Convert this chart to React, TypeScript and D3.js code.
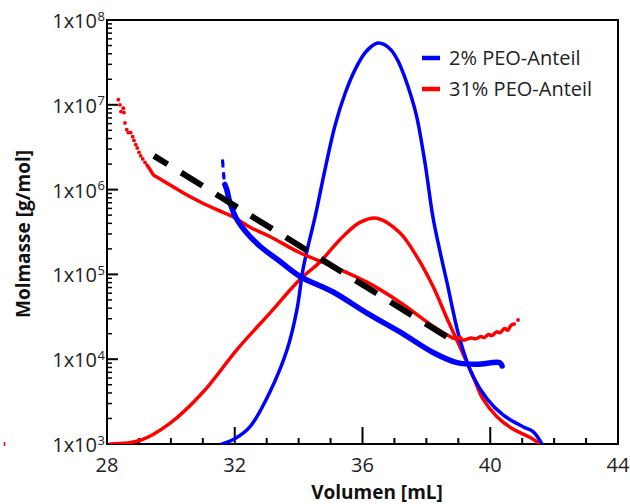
import React from "react";
import * as d3 from "d3";

// ---- data ----
const xTicks = [28, 32, 36, 40, 44];
const yExponents = [3, 4, 5, 6, 7, 8];
const legendLabels = ["2% PEO-Anteil", "31% PEO-Anteil"];
const axisTitleX = "Volumen [mL]";
const axisTitleY = "Molmasse [g/mol]";

// distribution curves (2% = blue, 31% = red)
const blueDistX = [31.6, 32.0, 32.48, 33.1, 33.64, 33.95, 34.137, 34.324, 34.512, 34.825, 35.138, 35.451, 35.764, 36.077, 36.296, 36.475, 36.672, 36.891, 37.111, 37.33, 37.518, 37.706, 37.956, 38.207, 38.426, 38.645, 39.05, 39.46, 39.9, 40.4, 41.02, 41.34, 41.62];
const blueDistY = [1.0e3, 1.15e3, 1.6e3, 4.1e3, 1.3e4, 3.9e4, 1.15e5, 2.38e5, 4.69e5, 1.72e6, 5.66e6, 1.35e7, 2.58e7, 4.09e7, 4.94e7, 5.36e7, 5.15e7, 4.44e7, 3.3e7, 2.08e7, 1.28e7, 7.03e6, 2.08e6, 4.69e5, 1.87e5, 8.05e4, 1.7e4, 6.3e3, 3.4e3, 2.2e3, 1.6e3, 1.4e3, 1.0e3];

const redDistX = [28.1, 29.03, 29.97, 31.01, 32.07, 33.1, 34.04, 34.67, 35.08, 35.39, 35.92, 36.45, 37.17, 37.71, 38.21, 38.65, 39.05, 39.46, 39.77, 40.21, 40.71, 41.24, 41.56];
const redDistY = [1.0e3, 1.1e3, 1.75e3, 4.1e3, 1.3e4, 3.5e4, 8.7e4, 1.4e5, 2.1e5, 2.8e5, 4.1e5, 4.6e5, 3.1e5, 1.6e5, 7.2e4, 3.0e4, 1.4e4, 6.3e3, 3.4e3, 2.1e3, 1.5e3, 1.2e3, 1.0e3];

// molar mass curves
const redMolDotsX = [28.354, 28.407, 28.438, 28.51, 28.532, 28.563, 28.617, 28.667, 28.742, 28.805, 28.845, 28.899, 28.949, 29.002, 29.055, 29.118, 29.19];
const redMolDotsY = [1.15e7, 1.0e7, 8.3e6, 9.1e6, 8.1e6, 6.1e6, 5.1e6, 4.7e6, 4.7e6, 4.2e6, 3.8e6, 3.4e6, 3.1e6, 2.75e6, 2.5e6, 2.3e6, 2.1e6];
const redMolX = [29.25, 29.35, 29.45, 29.61, 29.87, 30.38, 30.91, 31.44, 31.94, 32.48, 33.1, 34.04, 35.08, 36.14, 37.17, 38.21, 38.74, 38.9, 39.05, 39.15, 39.27, 39.4, 39.55, 39.7, 39.8, 39.95, 40.05, 40.2, 40.3, 40.45, 40.55, 40.65, 40.75];
const redMolY = [1.95e6, 1.72e6, 1.5e6, 1.37e6, 1.2e6, 9.2e5, 7.2e5, 5.8e5, 4.8e5, 3.6e5, 2.8e5, 1.8e5, 1.24e5, 8.1e4, 4.7e4, 2.45e4, 1.85e4, 1.75e4, 1.8e4, 1.68e4, 1.72e4, 1.78e4, 1.74e4, 1.85e4, 1.8e4, 1.95e4, 1.9e4, 2.1e4, 2.05e4, 2.3e4, 2.2e4, 2.5e4, 2.6e4];
const redMolEndX = [40.87];
const redMolEndY = [2.9e4];

const blueMolDotsX = [31.62, 31.63, 31.65, 31.66];
const blueMolDotsY = [2.12e6, 1.95e6, 1.5e6, 1.41e6];
const blueMolX = [31.69, 31.75, 31.85, 32.06, 32.37, 32.79, 33.42, 34.04, 35.08, 36.14, 37.17, 38.21, 38.96, 39.58, 40.3, 40.37];
const blueMolY = [1.15e6, 1.0e6, 7.0e5, 4.5e5, 3.1e5, 2.15e5, 1.42e5, 9.5e4, 6.2e4, 3.5e4, 2.1e4, 1.2e4, 9.1e3, 8.7e3, 9.1e3, 8.3e3];

// dashed reference line
const dashX = [29.47, 38.68];
const dashY = [2.5e6, 1.8e4];

const BLUE = "#0000ff";
const RED = "#ff0000";
const TEXT = "#222222";
const FONT = "'Open Sans', 'DejaVu Sans', sans-serif";

export default function App() {
  const W = 630, H = 504;
  const left = 107, right = 618, top = 20, bottom = 444;
  const x = d3.scaleLinear().domain([28, 44]).range([left, right]);
  const y = d3.scaleLog().domain([1e3, 1e8]).range([bottom, top]);

  const zip = (xs: number[], ys: number[]) => xs.map((v, i) => [v, ys[i]] as [number, number]);
  const line = d3
    .line<[number, number]>()
    .x((d) => x(d[0]))
    .y((d) => y(d[1]))
    .curve(d3.curveCatmullRom.alpha(0.5));
  const straight = d3
    .line<[number, number]>()
    .x((d) => x(d[0]))
    .y((d) => y(d[1]));

  const minorX = d3.range(29, 44).filter((v) => v % 4 !== 0);
  const minorY: number[] = [];
  for (let e = 3; e < 8; e++) for (let m = 2; m <= 9; m++) minorY.push(m * Math.pow(10, e));

  return (
    <svg width={W} height={H} style={{ position: "absolute", left: 0, top: 0, background: "#fff" }} fontFamily={FONT}>
      <defs>
        <clipPath id="plot">
          <rect x={left} y={top} width={right - left} height={bottom - top} />
        </clipPath>
      </defs>

      {/* frame */}
      <rect x={left} y={top} width={right - left} height={bottom - top} fill="none" stroke="#000" strokeWidth={2} />

      {/* x ticks */}
      {xTicks.map((t) => (
        <g key={"xt" + t}>
          <line x1={x(t)} x2={x(t)} y1={bottom} y2={bottom - 17} stroke="#000" strokeWidth={2} />
          <text x={x(t)} y={472} textAnchor="middle" fontSize={20} fill={TEXT}>{t}</text>
        </g>
      ))}
      {minorX.map((t) => (
        <line key={"xm" + t} x1={x(t)} x2={x(t)} y1={bottom} y2={bottom - 6} stroke="#000" strokeWidth={2} />
      ))}

      {/* y ticks */}
      {yExponents.map((e) => {
        const yy = y(Math.pow(10, e));
        return (
          <g key={"yt" + e}>
            <line x1={left} x2={left + 11} y1={yy} y2={yy} stroke="#000" strokeWidth={2} />
            <text x={97} y={yy + 8} textAnchor="end" fontSize={20} fill={TEXT}>1x10</text>
            <text x={97.5} y={yy + 0.5} textAnchor="start" fontSize={13} fill={TEXT}>{e}</text>
          </g>
        );
      })}
      {minorY.map((v) => (
        <line key={"ym" + v} x1={left} x2={left + 5} y1={y(v)} y2={y(v)} stroke="#000" strokeWidth={1.5} />
      ))}

      {/* curves */}
      <g clipPath="url(#plot)" fill="none" strokeLinejoin="round" strokeLinecap="round">
        <path d={line(zip(redDistX, redDistY)) || ""} stroke={RED} strokeWidth={3.5} />
        <path d={line(zip(blueDistX, blueDistY)) || ""} stroke={BLUE} strokeWidth={3.5} />
        <path d={line(zip(redMolX, redMolY)) || ""} stroke={RED} strokeWidth={3.5} />
        <path d={line(zip(blueMolX, blueMolY)) || ""} stroke={BLUE} strokeWidth={5.5} />
        <path d={straight(zip(dashX, dashY)) || ""} stroke="#000" strokeWidth={6} strokeDasharray="25 16" strokeDashoffset={9} strokeLinecap="butt" />
      </g>
      {zip(redMolDotsX, redMolDotsY).concat(zip(redMolEndX, redMolEndY)).map((d, i) => (
        <circle key={"rd" + i} cx={x(d[0])} cy={y(d[1])} r={1.9} fill={RED} />
      ))}
      {zip(blueMolDotsX, blueMolDotsY).map((d, i) => (
        <rect key={"bd" + i} x={x(d[0]) - 1.5} y={y(d[1]) - 2.5} width={3} height={5} fill={BLUE} />
      ))}

      {/* legend */}
      {legendLabels.map((lab, i) => (
        <g key={lab}>
          <line x1={422} x2={440} y1={58 + i * 31} y2={58 + i * 31} stroke={i === 0 ? BLUE : RED} strokeWidth={4.5} />
          <text x={449} y={65 + i * 31} fontSize={20} fill={TEXT}>{lab}</text>
        </g>
      ))}

      {/* stray mark */}
      <line x1={4.5} x2={4.5} y1={442} y2={446} stroke={RED} strokeWidth={1.5} />

      {/* axis titles */}
      <text x={377} y={499} textAnchor="middle" fontSize={19} fontWeight="bold" fill="#111">{axisTitleX}</text>
      <text transform={`translate(30,234) rotate(-90)`} textAnchor="middle" fontSize={19} fontWeight="bold" fill="#111">{axisTitleY}</text>
    </svg>
  );
}
